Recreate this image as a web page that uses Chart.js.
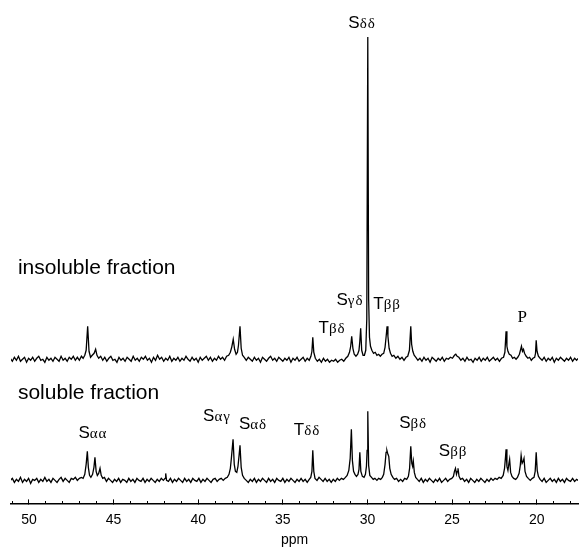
<!DOCTYPE html>
<html>
<head>
<meta charset="utf-8">
<script src="https://cdn.jsdelivr.net/npm/chart.js@4/dist/chart.umd.min.js"></script>
<style>
body { margin: 0; background: #fff; }
#wrap { width: 579px; height: 551px; }
</style>
</head>
<body>
<div id="wrap"><canvas id="nmr"></canvas></div>
<script>
// ppm axis ticks
var majorTicks = [50, 45, 40, 35, 30, 25, 20];
var minorTicks = [51, 49, 48, 47, 46, 44, 43, 42, 41, 39, 38, 37, 36, 34, 33, 32, 31, 29, 28, 27, 26, 24, 23, 22, 21, 19, 18];

// insoluble fraction spectrum [ppm, intensity]
var insoluble = [
	[51.10,1],[50.98,-2],[50.86,2],[50.74,-1],[50.62,3],[50.50,-2],[50.38,0],[50.26,2],[50.14,-3],[50.02,1],
	[49.90,-1],[49.78,2],[49.66,-2],[49.54,1],[49.42,3],[49.30,-1],[49.18,0],[49.06,-3],[48.94,2],[48.82,-1],
	[48.70,1],[48.58,-2],[48.46,2],[48.34,0],[48.22,-2],[48.10,3],[47.98,-1],[47.86,1],[47.74,-2],[47.62,2],
	[47.50,0],[47.38,3],[47.26,-1],[47.14,2],[47.02,-1],[46.90,3],[46.80,1],[46.70,4],[46.62,9],[46.53,33],
	[46.45,8],[46.36,2],[46.26,4],[46.15,6],[46.06,10],[45.98,4],[45.88,1],[45.76,3],
	[45.64,-1],[45.52,2],[45.40,-2],[45.28,1],[45.16,3],[45.04,-1],[44.92,0],[44.80,-3],[44.68,2],[44.56,-1],
	[44.44,1],[44.32,-2],[44.20,2],[44.08,0],[43.96,-2],[43.84,3],[43.72,-1],[43.60,1],[43.48,-2],[43.36,2],
	[43.24,0],[43.12,3],[43.00,-1],[42.88,1],[42.76,-3],[42.64,2],[42.52,-1],[42.40,4],[42.28,0],[42.16,2],
	[42.04,-2],[41.92,1],[41.80,-1],[41.68,3],[41.56,-2],[41.44,1],[41.32,-1],[41.20,2],[41.08,-2],[40.96,1],
	[40.84,-1],[40.72,3],[40.60,0],[40.48,-2],[40.36,2],[40.24,-1],[40.12,1],[40.00,-3],[39.88,2],[39.76,-1],
	[39.64,1],[39.52,3],[39.40,-1],[39.28,2],[39.16,-2],[39.04,1],[38.92,-1],[38.80,3],[38.68,0],[38.56,2],
	[38.44,-1],[38.32,3],[38.20,4],[38.10,7],[38.02,12],[37.93,20],[37.85,10],[37.76,5],[37.68,7],[37.62,14],
	[37.53,33],[37.46,11],[37.38,4],[37.28,2],
	[37.16,-1],[37.04,2],[36.92,0],[36.80,-2],[36.68,2],[36.56,-1],[36.44,1],[36.32,-3],[36.20,2],[36.08,0],
	[35.96,-2],[35.84,1],[35.72,3],[35.60,-1],[35.48,1],[35.36,-2],[35.24,2],[35.12,0],[35.00,-2],[34.88,1],
	[34.76,-1],[34.64,2],[34.52,-3],[34.40,1],[34.28,-1],[34.16,2],[34.04,-2],[33.92,0],[33.80,2],[33.68,-2],
	[33.56,1],[33.44,-1],[33.34,3],[33.28,8],[33.23,22],[33.17,7],[33.08,1],
	[32.96,-2],[32.84,0],[32.72,-3],[32.60,1],[32.48,-2],[32.36,0],[32.24,-3],[32.12,-1],[32.00,-2],[31.88,0],
	[31.76,-3],[31.64,-1],[31.52,0],[31.40,-2],[31.28,1],[31.16,3],[31.06,7],[30.99,13],[30.93,23],[30.86,11],
	[30.78,5],[30.68,3],[30.58,5],[30.50,9],[30.45,18],[30.40,31],[30.34,9],[30.26,4],[30.18,4],[30.10,9],
	[30.04,40],[29.98,322],[29.93,60],[29.88,22],[29.82,13],[29.74,9],[29.64,6],[29.54,7],[29.44,4],[29.34,5],
	[29.24,3],[29.14,5],[29.04,6],[28.96,12],[28.90,22],[28.84,33],[28.79,23],[28.72,11],[28.64,6],[28.54,3],
	[28.44,4],[28.32,1],[28.20,3],[28.08,0],[27.96,2],[27.84,-1],[27.72,2],[27.62,3],[27.52,9],[27.44,33],
	[27.39,15],[27.32,8],[27.24,4],[27.14,2],[27.02,-1],
	[26.90,1],[26.78,-2],[26.66,2],[26.54,-1],[26.42,1],[26.30,-3],[26.18,2],[26.06,0],[25.94,-2],[25.82,1],
	[25.70,-1],[25.58,2],[25.46,-2],[25.34,1],[25.22,0],[25.10,2],[24.98,1],[24.86,4],[24.78,5],[24.70,3],
	[24.60,2],[24.48,-1],[24.36,1],[24.24,-2],[24.12,2],[24.00,-1],[23.88,0],[23.76,-3],[23.64,1],[23.52,-1],
	[23.40,2],[23.28,-2],[23.16,1],[23.04,-1],[22.92,2],[22.80,-2],[22.68,0],[22.56,2],[22.44,-1],[22.32,1],
	[22.20,-2],[22.08,1],[21.96,2],[21.88,7],[21.81,28],[21.76,13],[21.70,8],[21.62,5],[21.52,4],[21.42,1],
	[21.32,2],[21.22,0],[21.12,2],[21.02,5],[20.96,9],[20.90,13],[20.84,8],[20.78,10],[20.72,6],[20.62,3],
	[20.52,1],[20.42,2],[20.32,-1],[20.22,1],[20.12,2],[20.07,6],[20.03,19],[19.98,8],[19.90,3],[19.80,1],
	[19.68,-1],[19.56,2],[19.44,-2],[19.32,1],[19.20,-1],[19.08,2],[18.96,-3],[18.84,1],[18.72,-1],[18.60,2],
	[18.48,0],[18.36,-2],[18.24,1],[18.12,-1],[18.00,2],[17.88,-2],[17.76,1],[17.64,-1],[17.55,1]
];

// soluble fraction spectrum [ppm, intensity]
var soluble = [
	[51.10,0],[50.98,2],[50.86,-2],[50.74,1],[50.62,-1],[50.50,3],[50.38,-2],[50.26,1],[50.14,-1],[50.02,2],
	[49.90,-3],[49.78,1],[49.66,0],[49.54,2],[49.42,-2],[49.30,1],[49.18,-1],[49.06,3],[48.94,-1],[48.82,1],
	[48.70,-2],[48.58,2],[48.46,0],[48.34,-2],[48.22,1],[48.10,3],[47.98,-1],[47.86,2],[47.74,0],[47.62,-2],
	[47.50,2],[47.38,1],[47.26,3],[47.14,0],[47.02,2],[46.90,3],[46.80,2],[46.70,6],[46.62,16],[46.55,29],
	[46.49,13],[46.42,5],[46.34,3],[46.24,6],[46.16,13],[46.10,23],[46.03,9],[45.96,5],[45.88,7],[45.80,12],
	[45.73,5],[45.64,2],[45.54,3],
	[45.42,-1],[45.30,2],[45.18,0],[45.06,-2],[44.94,1],[44.82,-1],[44.70,2],[44.58,-2],[44.46,1],[44.34,0],
	[44.22,-2],[44.10,2],[43.98,-1],[43.86,1],[43.74,-2],[43.62,2],[43.50,0],[43.38,-1],[43.26,2],[43.14,-2],
	[43.02,1],[42.90,-1],[42.78,2],[42.66,0],[42.54,-2],[42.42,1],[42.30,-1],[42.18,2],[42.06,0],[41.96,2],
	[41.92,7],[41.87,0],[41.76,-1],[41.64,2],[41.52,-2],[41.40,1],[41.28,-1],[41.16,2],[41.04,0],[40.92,-2],
	[40.80,2],[40.68,-1],[40.56,1],[40.44,-2],[40.32,2],[40.20,0],[40.08,-1],[39.96,2],[39.84,-2],[39.72,1],
	[39.60,-1],[39.48,2],[39.36,0],[39.24,-2],[39.12,1],[39.00,2],[38.88,-1],[38.76,1],[38.64,2],[38.52,0],
	[38.40,2],[38.28,3],[38.18,6],[38.10,12],[38.04,22],[37.94,41],[37.87,16],[37.80,9],[37.72,8],[37.65,14],
	[37.59,24],[37.53,35],[37.46,13],[37.38,5],[37.28,2],
	[37.16,0],[37.04,-2],[36.92,1],[36.80,-1],[36.68,2],[36.56,-2],[36.44,1],[36.32,-1],[36.20,2],[36.08,0],
	[35.96,-2],[35.84,2],[35.72,-1],[35.60,1],[35.48,-2],[35.36,2],[35.24,0],[35.12,-1],[35.00,2],[34.88,-2],
	[34.76,1],[34.64,-1],[34.52,2],[34.40,0],[34.28,-2],[34.16,1],[34.04,-1],[33.92,2],[33.80,-1],[33.68,1],
	[33.56,-2],[33.44,1],[33.35,3],[33.28,9],[33.23,30],[33.17,9],[33.10,2],[32.98,0],[32.86,3],[32.74,1],
	[32.62,-1],[32.50,2],[32.38,-1],[32.26,1],[32.14,-2],[32.02,1],[31.90,-1],[31.78,2],[31.66,0],[31.54,2],
	[31.42,1],[31.30,3],[31.20,5],[31.10,10],[31.02,22],[30.95,51],[30.89,20],[30.82,9],[30.74,6],[30.65,4],
	[30.56,6],[30.50,11],[30.45,28],[30.39,9],[30.30,4],[30.20,3],[30.12,6],[30.06,14],[30.02,30],[29.98,69],
	[29.93,15],[29.86,5],[29.76,3],[29.66,1],[29.56,2],[29.44,0],[29.34,2],[29.22,1],[29.12,3],[29.04,6],
	[28.96,16],[28.90,28],[28.85,30],[28.79,26],[28.74,24],[28.68,12],[28.60,6],[28.50,3],[28.40,1],[28.28,2],
	[28.16,-1],[28.04,1],[27.92,-1],[27.80,2],[27.68,1],[27.58,4],[27.51,12],[27.44,34],[27.38,17],[27.33,14],
	[27.29,19],[27.23,8],[27.15,3],[27.05,1],
	[26.94,-1],[26.82,2],[26.70,-2],[26.58,1],[26.46,-1],[26.34,2],[26.22,0],[26.10,-2],[25.98,1],[25.86,-1],
	[25.74,2],[25.62,-2],[25.50,0],[25.38,2],[25.26,-1],[25.14,1],[25.02,2],[24.92,4],[24.86,9],[24.80,12],
	[24.74,6],[24.69,9],[24.65,12],[24.59,4],[24.50,1],[24.38,2],[24.26,-1],[24.14,1],[24.02,-2],[23.90,2],
	[23.78,0],[23.66,-2],[23.54,1],[23.42,-1],[23.30,2],[23.18,0],[23.06,-2],[22.94,1],[22.82,-1],[22.70,2],
	[22.58,0],[22.46,2],[22.34,1],[22.22,3],[22.10,2],[21.98,5],[21.90,12],[21.84,24],[21.81,31],[21.76,14],
	[21.70,10],[21.65,16],[21.60,21],[21.54,8],[21.46,4],[21.36,2],[21.24,1],[21.14,3],[21.04,7],[20.97,15],
	[20.92,25],[20.86,17],[20.80,19],[20.75,22],[20.69,9],[20.60,4],[20.50,2],[20.38,0],[20.26,2],[20.16,3],
	[20.09,9],[20.03,28],[19.97,10],[19.90,4],[19.80,1],
	[19.68,-1],[19.56,2],[19.44,-2],[19.32,0],[19.20,2],[19.08,-1],[18.96,1],[18.84,-2],[18.72,2],[18.60,-1],
	[18.48,1],[18.36,-2],[18.24,2],[18.12,0],[18.00,-1],[17.88,2],[17.76,-1],[17.64,1],[17.55,0]
];

// peak assignments: trace, main letter, subscript, ppm, height of text baseline
var labelTrace = ['top', 'top', 'top', 'top', 'top', 'bot', 'bot', 'bot', 'bot', 'bot', 'bot'];
var labelMain = ['S', 'S', 'T', 'T', 'P', 'S', 'S', 'S', 'T', 'S', 'S'];
var labelSub = ['δδ', 'γδ', 'ββ', 'βδ', '', 'αα', 'αγ', 'αδ', 'δδ', 'βδ', 'ββ'];
var labelPpm = [30.32, 31.03, 28.84, 32.09, 20.86, 46.22, 38.89, 36.76, 33.57, 27.30, 24.94];
var labelHeight = [331, 54, 50, 26, 37, 42, 59, 51, 45, 52, 24];

var traceNames = ['insoluble fraction', 'soluble fraction'];
var traceNamePpm = 50.65;
var traceNameHeight = [85, 81];

var sans = "'Liberation Sans', Arial, sans-serif";
var serif = "'Liberation Serif', 'Times New Roman', serif";

var labelPlugin = {
	id: 'peakLabels',
	afterDatasetsDraw: function(chart) {
		var ctx = chart.ctx;
		var xs = chart.scales.x;
		ctx.save();
		ctx.fillStyle = '#000';
		ctx.textBaseline = 'alphabetic';
		for (var i = 0; i < labelMain.length; i++) {
			var ys = chart.scales[labelTrace[i] == 'top' ? 'yTop' : 'yBot'];
			var px = xs.getPixelForValue(labelPpm[i]);
			var py = ys.getPixelForValue(labelHeight[i]);
			var mainFont = labelMain[i] == 'P' ? '17px ' + serif : '17px ' + sans;
			ctx.letterSpacing = '0px';
			ctx.font = mainFont;
			var w1 = ctx.measureText(labelMain[i]).width;
			ctx.font = '15px ' + serif;
			ctx.letterSpacing = '1px';
			var w2 = ctx.measureText(labelSub[i]).width;
			var left = px - (w1 + w2) / 2;
			ctx.fillText(labelSub[i], left + w1, py);
			ctx.letterSpacing = '0px';
			ctx.font = mainFont;
			ctx.fillText(labelMain[i], left, py);
		}
		ctx.font = '21px ' + sans;
		ctx.textAlign = 'left';
		ctx.fillText(traceNames[0], xs.getPixelForValue(traceNamePpm), chart.scales.yTop.getPixelForValue(traceNameHeight[0]));
		ctx.fillText(traceNames[1], xs.getPixelForValue(traceNamePpm), chart.scales.yBot.getPixelForValue(traceNameHeight[1]));
		ctx.restore();
	}
};

var ctx = document.getElementById('nmr').getContext('2d');
var nmrChart = new Chart(ctx, {
	type: 'line',
	data: {
		datasets: [{
			label: 'insoluble fraction',
			data: insoluble,
			yAxisID: 'yTop',
			borderColor: '#000',
			borderWidth: 1.3,
			pointRadius: 0,
			tension: 0
		}, {
			label: 'soluble fraction',
			data: soluble,
			yAxisID: 'yBot',
			borderColor: '#000',
			borderWidth: 1.3,
			pointRadius: 0,
			tension: 0
		}]
	},
	options: {
		responsive: true,
		maintainAspectRatio: false,
		animation: false,
		devicePixelRatio: 1,
		layout: { padding: { left: 11, right: 1, top: 0, bottom: 0 } },
		plugins: { legend: { display: false }, tooltip: { enabled: false } },
		scales: {
			x: {
				type: 'linear',
				position: 'bottom',
				reverse: true,
				min: 17.56,
				max: 51.06,
				afterBuildTicks: function(scale) {
					scale.ticks = majorTicks.map(function(v) { return { value: v }; });
				},
				ticks: {
					color: '#000',
					padding: 12,
					maxRotation: 0,
					font: { family: sans, size: 14 }
				},
				grid: { display: true, drawOnChartArea: false, drawTicks: true, tickLength: -4, color: '#000', lineWidth: 1 },
				border: { display: true, color: '#000', width: 1.5 },
				title: { display: true, text: 'ppm', color: '#000', font: { family: sans, size: 14 }, padding: { top: -8, bottom: 2 } }
			},
			xm: {
				type: 'linear',
				axis: 'x',
				position: { yBot: -23 },
				reverse: true,
				min: 17.56,
				max: 51.06,
				afterBuildTicks: function(scale) {
					scale.ticks = minorTicks.map(function(v) { return { value: v }; });
				},
				ticks: { display: false },
				grid: { display: true, drawOnChartArea: false, drawTicks: true, tickLength: -2, color: '#000', lineWidth: 1 },
				border: { display: false }
			},
			yTop: {
				type: 'linear',
				display: false,
				min: -144,
				max: 359
			},
			yBot: {
				type: 'linear',
				display: false,
				min: -23,
				max: 480
			}
		}
	},
	plugins: [labelPlugin]
});
</script>
</body>
</html>
